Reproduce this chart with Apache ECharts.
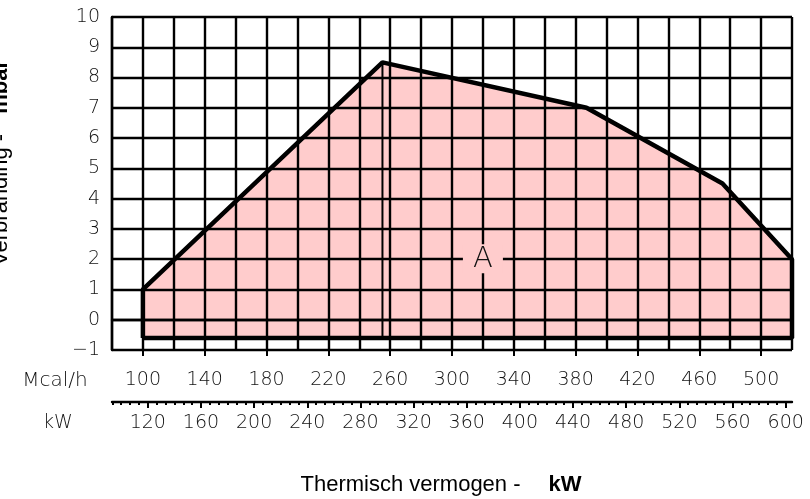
<!DOCTYPE html>
<html>
<head>
<meta charset="utf-8">
<script src="https://cdn.jsdelivr.net/npm/echarts@6/dist/echarts.min.js"></script>
<style>
  html, body { margin: 0; padding: 0; background: #fff; }
  #chart { width: 810px; height: 499px; }
</style>
</head>
<body>
<div id="chart"></div>
<script>
// working range outline, x in Mcal/h, y in mbar
const areaX = [100, 100, 255, 387, 475, 520, 520];
const areaY = [-0.6, 1, 8.5, 7, 4.5, 2, -0.6];
const peakX = [255, 255];
const peakY = [8.5, -0.6];
const labelA = [320, 2];

const mcalTicks = [100, 140, 180, 220, 260, 300, 340, 380, 420, 460, 500];
const kwTicks = [120, 160, 200, 240, 280, 320, 360, 400, 440, 480, 520, 560, 600];
const kwMinorStep = 40 / 6;

const MCAL_MIN = 80;
const MCAL_MAX = 520;
const KW_PER_MCAL = 1.163;

const kwMinor = [];
for (let v = kwTicks[0] - 4 * kwMinorStep; v <= 600.01; v += kwMinorStep) {
  kwMinor.push(+v.toFixed(3));
}

const labelFont = "DejaVu Sans";
const titleFont = "Liberation Sans, Arial, sans-serif";
const pink = "#ffcccc";
const gridWidth = 2.4;

const chart = echarts.init(document.getElementById("chart"));

const outline = areaX.map((x, i) => [x, areaY[i]]);
outline.push([areaX[0], areaY[0]]);

const tickLabel = {
  fontFamily: labelFont,
  fontWeight: 200,
  fontSize: 19,
  color: "#111"
};

chart.setOption({
  animation: false,
  grid: { left: 112, right: 18, top: 17, bottom: 149 },
  xAxis: [
    {
      // grid lines every 20 Mcal/h
      type: "value",
      min: MCAL_MIN,
      max: MCAL_MAX,
      interval: 20,
      z: 3,
      axisLine: { show: true, lineStyle: { color: "#000", width: gridWidth } },
      axisTick: { show: false },
      axisLabel: { show: false },
      splitLine: { show: true, lineStyle: { color: "#000", width: gridWidth } }
    },
    {
      // Mcal/h ticks and labels
      type: "value",
      position: "bottom",
      min: MCAL_MIN,
      max: MCAL_MAX,
      z: 3,
      axisLine: { show: false },
      axisTick: {
        show: true,
        customValues: mcalTicks,
        length: 6,
        lineStyle: { color: "#000", width: 2 }
      },
      axisLabel: { customValues: mcalTicks, margin: 21, ...tickLabel },
      splitLine: { show: false }
    },
    {
      // kW axis, major ticks
      type: "value",
      position: "bottom",
      offset: 52,
      min: MCAL_MIN * KW_PER_MCAL,
      max: MCAL_MAX * KW_PER_MCAL,
      axisLine: { show: true, lineStyle: { color: "#000", width: gridWidth } },
      axisTick: {
        show: true,
        customValues: kwTicks,
        length: 6,
        lineStyle: { color: "#000", width: 2 }
      },
      axisLabel: { customValues: kwTicks, margin: 12, ...tickLabel },
      splitLine: { show: false }
    },
    {
      // kW axis, minor ticks
      type: "value",
      position: "bottom",
      offset: 52,
      min: MCAL_MIN * KW_PER_MCAL,
      max: MCAL_MAX * KW_PER_MCAL,
      axisLine: { show: false },
      axisTick: {
        show: true,
        customValues: kwMinor,
        length: 3,
        lineStyle: { color: "#000", width: 2 }
      },
      axisLabel: { show: false },
      splitLine: { show: false }
    }
  ],
  yAxis: {
    type: "value",
    min: -1,
    max: 10,
    interval: 1,
    z: 3,
    axisLine: { show: true, lineStyle: { color: "#000", width: gridWidth } },
    axisTick: { show: false },
    axisLabel: {
      margin: 12,
      ...tickLabel,
      formatter: (v) => String(v).replace("-", "\u2212")
    },
    splitLine: { show: true, lineStyle: { color: "#000", width: gridWidth } }
  },
  graphic: [
    {
      type: "text",
      x: 1,
      y: 163,
      rotation: Math.PI / 2,
      style: {
        text: "{n|Verbranding -}{b|mbar}",
        textAlign: "center",
        textVerticalAlign: "middle",
        rich: {
          n: { fontFamily: titleFont, fontSize: 22, fill: "#000" },
          b: { fontFamily: titleFont, fontSize: 22, fontWeight: "bold", fill: "#000", padding: [0, 0, 0, 20] }
        }
      }
    },
    {
      type: "text",
      x: 55,
      y: 381,
      style: {
        text: "Mcal/h",
        textAlign: "center",
        textVerticalAlign: "middle",
        fontFamily: labelFont,
        fontWeight: 200,
        fontSize: 20,
        fill: "#111"
      }
    },
    {
      type: "text",
      x: 58,
      y: 423,
      style: {
        text: "kW",
        textAlign: "center",
        textVerticalAlign: "middle",
        fontFamily: labelFont,
        fontWeight: 200,
        fontSize: 19,
        fill: "#111"
      }
    },
    {
      type: "text",
      x: 441,
      y: 485,
      style: {
        text: "{n|Thermisch vermogen -}{b|kW}",
        textAlign: "center",
        textVerticalAlign: "middle",
        rich: {
          n: { fontFamily: titleFont, fontSize: 22, fill: "#000" },
          b: { fontFamily: titleFont, fontSize: 22, fontWeight: "bold", fill: "#000", padding: [0, 0, 0, 28] }
        }
      }
    }
  ],
  series: [
    {
      // pink fill, drawn below the grid lines
      type: "custom",
      xAxisIndex: 0,
      yAxisIndex: 0,
      z: 1,
      silent: true,
      data: [0],
      renderItem: (params, api) => ({
        type: "polygon",
        shape: { points: areaX.map((x, i) => api.coord([x, areaY[i]])) },
        style: { fill: pink, stroke: null }
      })
    },
    {
      type: "line",
      xAxisIndex: 0,
      yAxisIndex: 0,
      z: 5,
      silent: true,
      data: outline,
      symbol: "none",
      lineStyle: { color: "#000", width: 4.5, join: "bevel" }
    },
    {
      type: "line",
      xAxisIndex: 0,
      yAxisIndex: 0,
      z: 5,
      silent: true,
      data: peakX.map((x, i) => [x, peakY[i]]),
      symbol: "none",
      lineStyle: { color: "#000", width: 2 }
    },
    {
      // "A" marker with pink patch that cuts the grid lines
      type: "custom",
      xAxisIndex: 0,
      yAxisIndex: 0,
      z: 6,
      silent: true,
      data: [labelA],
      renderItem: (params, api) => {
        const p = api.coord([api.value(0), api.value(1)]);
        return {
          type: "group",
          children: [
            {
              type: "rect",
              shape: { x: p[0] - 20, y: p[1] - 15, width: 40, height: 29 },
              style: { fill: pink }
            },
            {
              type: "text",
              x: p[0],
              y: p[1],
              style: {
                text: "A",
                textAlign: "center",
                textVerticalAlign: "middle",
                fontFamily: labelFont,
                fontWeight: 200,
                fontSize: 29,
                fill: "#111"
              }
            }
          ]
        };
      }
    }
  ]
});
</script>
</body>
</html>
